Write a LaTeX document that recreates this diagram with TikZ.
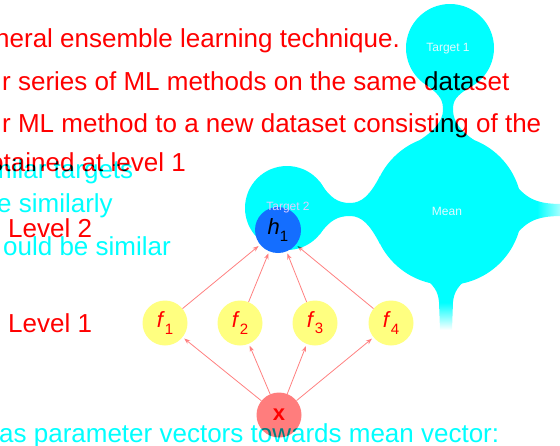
\documentclass[tikz,border=0pt]{standalone}
\usepackage{fontspec}
\setmainfont{Liberation Sans}
\usetikzlibrary{arrows.meta}
\definecolor{cy}{RGB}{0,255,255}
\definecolor{rd}{RGB}{255,0,0}
\definecolor{arr}{RGB}{255,128,128}
\definecolor{fy}{RGB}{255,255,128}
\definecolor{xr}{RGB}{255,125,125}
\definecolor{hb}{RGB}{20,110,255}
\definecolor{lab}{RGB}{225,250,255}
\definecolor{lav}{RGB}{225,205,255}
\pgfdeclarehorizontalshading{fadeR}{100bp}{color(0bp)=(cy); color(25bp)=(cy); color(50bp)=(cy); color(85bp)=(white); color(100bp)=(white)}
\pgfdeclareverticalshading{fadeD}{100bp}{color(0bp)=(white); color(25bp)=(white); color(50bp)=(cy); color(75bp)=(cy); color(100bp)=(cy)}
\pgfdeclarelayer{fg}
\pgfsetlayers{main,fg}
\newcommand\lab[2]{\textit{#1}\raisebox{-0.28em}{\fontsize{15}{15}\selectfont #2}}
\tikzset{
  txt/.style={anchor=base west, inner sep=0pt, font=\fontsize{26}{30}\selectfont},
  redtxt/.style={txt, text=rd},
  cytxt/.style={txt, text=cy},
  fnode/.style={circle, fill=fy, minimum size=45pt, inner sep=0pt, text=rd, font=\fontsize{22}{22}\selectfont},
  xnode/.style={circle, fill=xr, minimum size=45pt, inner sep=0pt, text=rd, font=\fontsize{22}{22}\selectfont},
  hnode/.style={circle, fill=hb, minimum size=46pt, inner sep=0pt, text=black, font=\fontsize{22}{22}\selectfont},
  conn/.style={draw=arr, line width=0.8pt, -{Stealth[length=6pt,width=4.5pt]}, shorten >=2pt},
  small/.style={inner sep=0pt, font=\fontsize{12}{12}\selectfont},
}
\begin{document}
\begin{tikzpicture}[x=1pt, y=-1pt]
\useasboundingbox (0,0) rectangle (560,445);
\clip (0,0) rectangle (560,445);
% foreground: h1 and blob labels
\begin{pgfonlayer}{fg}
  \node[hnode] (h1) at (278,230) {\lab{h}{1}};
  \node[small, text=lab] (t1) at (448,49) {Target 1};
  \node[small, text=lab] (mean) at (447,211) {Mean};
  \node[small, text=lav] (t2) at (288,208) {Target 2};
\end{pgfonlayer}
% red text
\node[redtxt] (l1) at (-5,47) {neral ensemble learning technique.};
\node[redtxt] (l2) at (2,90) {r series of ML methods on the same dataset};
\node[redtxt] (l3) at (2,132) {r ML method to a new dataset consisting of the};
\node[redtxt] (l4) at (-11,171) {btained at level 1};
\node[redtxt] (lv2) at (8,237) {Level 2};
\node[redtxt] (lv1) at (8,332) {Level 1};
% network
\node[fnode] (f1) at (165,323) {\lab{f}{1}};
\node[fnode] (f2) at (240,323) {\lab{f}{2}};
\node[fnode] (f3) at (315,323) {\lab{f}{3}};
\node[fnode] (f4) at (391,323) {\lab{f}{4}};
\node[xnode] (x) at (279,415) {\textbf{x}};
\foreach \f in {f1,f2,f3,f4} {
  \draw[conn] (x) -- (\f);
  \draw[conn] (\f) -- (h1);
}
% cyan layer (multiplied)
\begin{scope}[blend mode=multiply]
  \node[cytxt] (c1) at (-10,178) {milar targets};
  \node[cytxt] (c2) at (-3,212) {e similarly};
  \node[cytxt] (c3) at (3,255) {ould be similar};
  \node[cytxt] (c4) at (-1,442) {as parameter vectors towards mean vector:};
  \fill[cy] (450,48) circle[radius=44];
  \fill[cy] (447,210) circle[radius=75];
  \fill[cy] (287,208) circle[radius=42];
  \fill[cy] (428,86) .. controls (441,96) and (443,101) .. (443,110)
     .. controls (443,122) and (432,132) .. (420,140) -- (474,140)
     .. controls (462,132) and (453,122) .. (453,110)
     .. controls (453,101) and (455,96) .. (472,86) -- cycle;
  \fill[cy] (320,182) .. controls (330,198) and (338,203) .. (350,203)
     .. controls (362,203) and (370,195) .. (380,176) -- (380,244)
     .. controls (370,225) and (362,216) .. (350,216)
     .. controls (338,216) and (330,220) .. (320,234) -- cycle;
  \shade[shading=fadeR] (512,180) .. controls (525,198) and (535,204) .. (562,204)
     -- (562,216) .. controls (535,216) and (525,222) .. (512,240) -- cycle;
  \shade[shading=fadeD] (420,275) .. controls (435,285) and (438,292) .. (439,302)
     -- (440,330) -- (452,330) -- (453,302)
     .. controls (454,292) and (458,285) .. (472,275) -- cycle;
\end{scope}
\end{tikzpicture}
\end{document}
